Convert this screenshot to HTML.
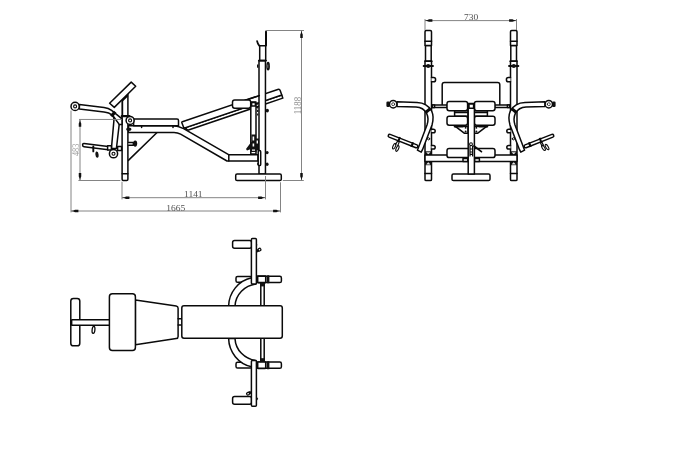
<!DOCTYPE html>
<html>
<head>
<meta charset="utf-8">
<title>Weight bench dimensions</title>
<style>
html,body{margin:0;padding:0;background:#fff;}
body{width:681px;height:450px;overflow:hidden;font-family:"Liberation Sans",sans-serif;}
svg{display:block;position:absolute;left:0;top:0;will-change:transform;}
.k{fill:none;stroke:#0a0a0a;stroke-width:1.5;stroke-linejoin:round;stroke-linecap:round;}
.w{fill:#fff;stroke:#0a0a0a;stroke-width:1.5;stroke-linejoin:round;stroke-linecap:round;}
.t{fill:none;stroke:#1a1a1a;stroke-width:0.8;stroke-linejoin:round;stroke-linecap:round;}
.d{fill:none;stroke:#848484;stroke-width:1;}
.a{fill:#111;stroke:none;}
.b{fill:#111;stroke:none;}
text{font-family:"Liberation Serif",serif;font-size:9.5px;fill:#505050;}
.v{fill:#8a8a8a;}
</style>
</head>
<body>
<svg width="681" height="450" viewBox="0 0 681 450">
<rect x="0" y="0" width="681" height="450" fill="#fff"/>


<!-- ===================== SIDE VIEW ===================== -->
<g id="side-view">
  <!-- backrest -->
  <g transform="translate(181.6 122) rotate(-18.7)">
    <path class="w" d="M1.6 6.6H103.5V9.8H3.2Z"/>
    <path class="w" d="M0.8 0H101.5Q103.5 0 103.5 2V6.6H0.3L0 0.8Q0 0 0.8 0Z"/>
  </g>
  <ellipse class="b" cx="185.4" cy="129" rx="1.7" ry="1.1" transform="rotate(-18 185.4 129)"/>
  <!-- frame -->
  <path class="w" d="M128.4 125.8H173Q178 126 183.6 128.6L228.6 154.7H258V161H227L180.6 134.2Q177.6 132.5 174 132.5H128.4Z"/>
  <path class="k" d="M228.8 154.7V161"/>
  <path class="k" d="M156.8 132.8L128.4 160.4"/>
  <!-- seat pad -->
  <path class="w" d="M133.6 119H177Q178.5 119 178.5 120.5V125.8H133.6Z"/>
  <path class="k" d="M141.6 125.8v1.6M173 125.8v1.6"/>
  <!-- knee pad post -->
  <path class="k" d="M127.9 94.4V117"/><path class="k" style="stroke-width:1.8" d="M122.3 100.6V117"/><path class="k" style="stroke-width:2.4;stroke-linecap:butt" d="M121.6 101L127.6 95.1"/>
  <!-- knee pad -->
  <path class="w" d="M131.2 82.1L135.7 86.3L114.3 107.4L109.6 103.2Z"/>
  <!-- front post -->
  <path class="w" d="M122.1 116.2H127.9V179.2Q127.9 180.4 126.7 180.4H123.3Q122.1 180.4 122.1 179.2Z"/>
  <path class="k" d="M122.1 173.8H127.9"/>
  <path class="k" style="stroke-width:2.2" d="M121.8 116.1H129.4"/>
  <!-- bolt, knob -->
  <ellipse class="b" cx="128.8" cy="129.2" rx="2.7" ry="1.7"/>
  <path class="w" d="M128.6 142.4H133.4V145.2H128.6"/>
  <ellipse class="b" cx="135.2" cy="143.6" rx="2" ry="3.1"/>
  <!-- leg developer arm -->
  <path class="w" d="M113.7 115.6L119.3 123.6L116.4 148.6H111.4L113.9 120.6Z"/>
  <path class="w" d="M79.4 104.4L104 107.4Q108.6 108 111.6 110.4L122 118.8V124.4H119.2L113.7 116.8Q111.7 114.2 108.6 113Q106.6 112.3 104 112L79.4 108.9Z"/>
  <path class="k" style="stroke-width:3.2;stroke-linecap:butt" d="M115.2 111.8L111.3 116.4"/>
  <!-- upper roller -->
  <circle class="w" cx="75.1" cy="106.4" r="4.1"/>
  <circle class="k" style="stroke-width:1.1" cx="75.1" cy="106.4" r="1.5"/>
  <!-- seat pivot -->
  <circle class="w" cx="130.1" cy="120.4" r="4"/>
  <circle class="k" style="stroke-width:1.1" cx="130.1" cy="120.4" r="1.5"/>
  <!-- weight horn -->
  <path class="w" d="M108.2 146.6L84 143.6Q82.6 143.5 82.6 145Q82.6 146.5 84 146.7L108.2 149.7"/>
  <rect class="w" x="107.6" y="145.8" width="3.8" height="4.2"/>
  <rect class="w" x="117.6" y="146.4" width="4" height="4.2"/>
  <path class="k" style="stroke-width:1.9" d="M93.3 146.4V151.4"/>
  <ellipse class="b" cx="97" cy="154.6" rx="1.6" ry="3.2" transform="rotate(-6 97 154.6)"/>
  <!-- lower roller -->
  <circle class="w" cx="113.5" cy="153.7" r="4.1"/>
  <circle class="k" style="stroke-width:1.1" cx="113.5" cy="153.7" r="1.5"/>

  <!-- arm pad post -->
  <path class="w" d="M250.8 102H256V154H250.8Z"/>
  <path class="k" style="stroke-dasharray:2.2 1.4;stroke-linecap:butt;stroke-width:1.2" d="M257.7 102.6V116"/>
  <rect class="w" x="251.6" y="102.4" width="3.8" height="3.6"/>
  <!-- mechanism -->
  <path class="b" d="M251.4 134.5h4.6v4h3.4v12h-3v1.6h-5.4v-3l-4 1.4l-1-1.4l5.4-7.4z"/>
  <path d="M252.6 136.5h1.6v4h-1.6zM256.6 140.4h1.4v3h-1.4zM252.6 143.4h1.6v3h-1.6zM252 149.4h3v1.4h-3z" fill="#fff"/>
  <!-- upright -->
  <path class="w" d="M259 60.5H265.45V174H259Z"/>
  <path class="w" d="M259.7 45.7H265.7V60.5H259.7Z"/>
  <path class="k" style="stroke-width:1.9" d="M258.9 60.6H266"/>
  <path class="k" style="stroke-width:2" d="M266 31.4V45.4"/>
  <path class="k" style="stroke-width:1.8" d="M257.1 41.2Q257.6 43.8 259.2 45.6"/>
  <ellipse class="b" cx="268.1" cy="66.2" rx="1.8" ry="4.4"/><path d="M267.8 64.6v3.2" stroke="#999" stroke-width="0.8" fill="none"/>
  <rect class="b" x="257" y="64.5" width="1.4" height="3.2"/>
  <ellipse class="b" cx="267.3" cy="110.6" rx="1.6" ry="1.9"/>
  <ellipse class="b" cx="267.1" cy="152.6" rx="1.5" ry="1.7"/>
  <ellipse class="b" cx="267.1" cy="164.2" rx="1.5" ry="1.7"/>
  <!-- bracket -->
  <rect class="w" x="258.2" y="150.6" width="2.5" height="15" rx="1.2"/>
  <ellipse class="b" cx="258" cy="164" rx="0.9" ry="1.2"/>
  <!-- arm pad -->
  <path class="k" d="M245 100.2L259.3 95.6"/>
  <rect class="w" x="232.5" y="100" width="18.2" height="8.2" rx="2.2"/>
  <!-- base -->
  <rect class="w" x="235.7" y="174" width="45.6" height="6.6" rx="1.4"/>
</g>


<!-- ===================== DIMENSIONS (side view) ===================== -->
<g id="side-dims">
  <path class="d" d="M79 119.45H121.6M78.4 180.5H120.4M80 119.4V180.5"/>
  <path class="d" d="M71 110.5V212.4M280.5 182.3V212.4M71 211H280.5"/>
  <path class="d" d="M122 181.7V199.4M265.5 176V199.4M122 197.7H265.5"/>
  <path class="d" d="M266 30.5H304M282.8 180.5H303.8M301.5 30.5V180.5"/>
  <path class="a" d="M80.00 119.40L79.45 122.00L78.75 123.40L78.75 126.80L81.25 126.80L81.25 123.40L80.55 122.00ZM80.00 180.50L79.45 177.90L78.75 176.50L78.75 173.10L81.25 173.10L81.25 176.50L80.55 177.90ZM301.50 30.50L300.95 33.10L300.25 34.50L300.25 37.90L302.75 37.90L302.75 34.50L302.05 33.10ZM301.50 180.50L300.95 177.90L300.25 176.50L300.25 173.10L302.75 173.10L302.75 176.50L302.05 177.90Z"/>
  <path class="a" d="M71.00 211.00L73.60 210.45L75.00 209.75L78.40 209.75L78.40 212.25L75.00 212.25L73.60 211.55ZM280.50 211.00L277.90 210.45L276.50 209.75L273.10 209.75L273.10 212.25L276.50 212.25L277.90 211.55ZM122.00 197.70L124.60 197.15L126.00 196.45L129.40 196.45L129.40 198.95L126.00 198.95L124.60 198.25ZM265.50 197.70L262.90 197.15L261.50 196.45L258.10 196.45L258.10 198.95L261.50 198.95L262.90 198.25Z"/>
  <text transform="translate(193.3 197) scale(1 0.93)" text-anchor="middle">1141</text>
  <text transform="translate(175.8 210.6) scale(1 0.93)" text-anchor="middle">1665</text>
  <text class="v" transform="translate(301.4 105.6) rotate(-90) scale(0.93 1.1)" text-anchor="middle">1188</text>
  <text class="v" style="fill:#a0a0a0" transform="translate(79.2 149.8) rotate(-90) scale(0.88 1.1)" text-anchor="middle">483</text>
</g>

<!-- ===================== FRONT VIEW ===================== -->
<g id="front-dims">
  <path class="d" d="M425 19V30.2M516.5 19V30.2M425 20.6H516.5"/>
  <path class="a" d="M425.00 20.60L427.60 20.05L429.00 19.35L432.40 19.35L432.40 21.85L429.00 21.85L427.60 21.15ZM516.50 20.60L513.90 20.05L512.50 19.35L509.10 19.35L509.10 21.85L512.50 21.85L513.90 21.15Z"/>
  <text transform="translate(471 20.2) scale(1 0.93)" text-anchor="middle">730</text>
</g>
<g id="front-view">
  <!-- back pad -->
  <path class="w" d="M442.2 105V84.7Q442.2 82.5 444.4 82.5H497.6Q499.8 82.5 499.8 84.7V105"/>
  <!-- base -->
  <rect class="w" x="452" y="174" width="38" height="6.6" rx="1.4"/>
  <g>
    <!-- connector bar -->
    <path class="w" d="M431.5 105H447.4V107.6H431.5Z"/>
    <rect class="w" x="432.2" y="105" width="2.4" height="2.6"/>
    <!-- upright -->
    <path class="w" d="M425 61H431.5V179.4Q431.5 180.5 430.4 180.5H426.1Q425 180.5 425 179.4Z"/>
    <path class="k" d="M425 173.6H431.5"/>
    <path class="w" d="M425.5 45.5H431.2V61H425.5Z"/>
    <path class="w" d="M425 45.5V31.8Q425 30.6 426.2 30.6H430.3Q431.5 30.6 431.5 31.8V45.5Z"/>
    <path class="k" d="M425 41.2H431.5"/>
    <path class="k" style="stroke-width:1" d="M424.6 61.2H432.4"/>
    <path class="k" style="stroke-width:1.8" d="M423.6 66H433"/>
    <circle class="b" cx="428.2" cy="66" r="2.1"/>
    <!-- pegs -->
    <path class="w" d="M431.5 77.6H433.6Q435.6 77.6 435.6 79.7Q435.6 81.8 433.6 81.8H431.5"/>
    <path class="w" d="M431.5 129.2H433.4Q435.2 129.2 435.2 131Q435.2 132.8 433.4 132.8H431.5"/>
    <path class="w" d="M431.5 145.4H433.4Q435.2 145.4 435.2 147.2Q435.2 149 433.4 149H431.5"/>
    <circle class="k" style="stroke-width:1" cx="428.6" cy="138.8" r="1.1"/>
    <!-- corner brackets -->
    <rect class="b" x="425" y="151.3" width="6.5" height="3.7"/>
    <rect class="b" x="425" y="161.5" width="6.5" height="3.7"/>
    <path d="M426.2 152.2H430.4L428.3 154.6ZM426.2 164.4H430.4L428.3 162Z" fill="#e6e6e6"/>
    <!-- arm pads -->
    <rect class="w" x="454.6" y="110.8" width="13.4" height="5.4"/>
    <path class="k" d="M454.6 112.4H468"/>
    <rect class="w" x="447" y="101.6" width="20.6" height="9.2" rx="2.2"/>
    <rect class="w" x="447" y="116.2" width="20.6" height="9" rx="2.2"/>
    <!-- gusset -->
    <path class="w" d="M454.6 126.2H468V133.2H464.2L457 127.6Z"/>
    <path class="k" style="stroke-width:1.8" d="M454.6 126.6H463"/>
    <circle class="b" cx="465.6" cy="127.8" r="1"/>
    <circle class="b" cx="465.6" cy="131.6" r="1"/>
    <!-- roller brackets under lower pad -->
    <!-- leg developer arm -->
    <path class="w" d="M397 101.8L417 102.4C424 102.6 429 106 431.6 111C433.6 115 433.4 120 432 125L422.6 149.4L421.2 152.2L417.4 150.2L427 125C428 122 428.6 117.4 426.6 113.4C424.6 109.6 421 107.2 416 107L397 106.5Z"/>
    <path class="k" style="stroke-width:3;stroke-linecap:butt" d="M430.6 108.3L425.6 112.5"/>
    <!-- roller -->
    <rect class="b" x="386.4" y="101.6" width="3.4" height="5.4" rx="1.2"/>
    <circle class="w" cx="393.2" cy="104.2" r="3.7"/>
    <circle class="t" cx="393.2" cy="104.2" r="1.5"/>
    <!-- horn -->
    <g transform="translate(388.4 135.3) rotate(21.4)">
      <rect class="w" x="0" y="-1.5" width="31.4" height="3" rx="1.3"/>
      <path class="k" style="stroke-width:2.2;stroke-linecap:butt" d="M25.6 -2.5V2.5"/>
    </g>
  </g>
  <g transform="translate(942 0) scale(-1 1)">
    <!-- connector bar -->
    <path class="w" d="M431.5 105H447.4V107.6H431.5Z"/>
    <rect class="w" x="432.2" y="105" width="2.4" height="2.6"/>
    <!-- upright -->
    <path class="w" d="M425 61H431.5V179.4Q431.5 180.5 430.4 180.5H426.1Q425 180.5 425 179.4Z"/>
    <path class="k" d="M425 173.6H431.5"/>
    <path class="w" d="M425.5 45.5H431.2V61H425.5Z"/>
    <path class="w" d="M425 45.5V31.8Q425 30.6 426.2 30.6H430.3Q431.5 30.6 431.5 31.8V45.5Z"/>
    <path class="k" d="M425 41.2H431.5"/>
    <path class="k" style="stroke-width:1" d="M424.6 61.2H432.4"/>
    <path class="k" style="stroke-width:1.8" d="M423.6 66H433"/>
    <circle class="b" cx="428.2" cy="66" r="2.1"/>
    <!-- pegs -->
    <path class="w" d="M431.5 77.6H433.6Q435.6 77.6 435.6 79.7Q435.6 81.8 433.6 81.8H431.5"/>
    <path class="w" d="M431.5 129.2H433.4Q435.2 129.2 435.2 131Q435.2 132.8 433.4 132.8H431.5"/>
    <path class="w" d="M431.5 145.4H433.4Q435.2 145.4 435.2 147.2Q435.2 149 433.4 149H431.5"/>
    <circle class="k" style="stroke-width:1" cx="428.6" cy="138.8" r="1.1"/>
    <!-- corner brackets -->
    <rect class="b" x="425" y="151.3" width="6.5" height="3.7"/>
    <rect class="b" x="425" y="161.5" width="6.5" height="3.7"/>
    <path d="M426.2 152.2H430.4L428.3 154.6ZM426.2 164.4H430.4L428.3 162Z" fill="#e6e6e6"/>
    <!-- arm pads -->
    <rect class="w" x="454.6" y="110.8" width="13.4" height="5.4"/>
    <path class="k" d="M454.6 112.4H468"/>
    <rect class="w" x="447" y="101.6" width="20.6" height="9.2" rx="2.2"/>
    <rect class="w" x="447" y="116.2" width="20.6" height="9" rx="2.2"/>
    <!-- gusset -->
    <path class="w" d="M454.6 126.2H468V133.2H464.2L457 127.6Z"/>
    <path class="k" style="stroke-width:1.8" d="M454.6 126.6H463"/>
    <circle class="b" cx="465.6" cy="127.8" r="1"/>
    <circle class="b" cx="465.6" cy="131.6" r="1"/>
    <!-- roller brackets under lower pad -->
    <!-- leg developer arm -->
    <path class="w" d="M397 101.8L417 102.4C424 102.6 429 106 431.6 111C433.6 115 433.4 120 432 125L422.6 149.4L421.2 152.2L417.4 150.2L427 125C428 122 428.6 117.4 426.6 113.4C424.6 109.6 421 107.2 416 107L397 106.5Z"/>
    <path class="k" style="stroke-width:3;stroke-linecap:butt" d="M430.6 108.3L425.6 112.5"/>
    <!-- roller -->
    <rect class="b" x="386.4" y="101.6" width="3.4" height="5.4" rx="1.2"/>
    <circle class="w" cx="393.2" cy="104.2" r="3.7"/>
    <circle class="t" cx="393.2" cy="104.2" r="1.5"/>
    <!-- horn -->
    <g transform="translate(388.4 135.3) rotate(21.4)">
      <rect class="w" x="0" y="-1.5" width="31.4" height="3" rx="1.3"/>
      <path class="k" style="stroke-width:2.2;stroke-linecap:butt" d="M25.6 -2.5V2.5"/>
    </g>
  </g>
  <!-- spring clips -->
  <g transform="translate(388.4 135.3) rotate(21.4)">
    <path class="k" style="stroke-width:2;stroke-linecap:butt" d="M11.4 -2.6V3"/>
    <path class="k" style="stroke-width:1.1" d="M10.6 2.4L10 6M12.6 2.4L12.4 6"/>
    <ellipse class="k" style="stroke-width:1.1" cx="9.4" cy="8" rx="1.2" ry="3" transform="rotate(2 9.4 8)"/>
    <ellipse class="k" style="stroke-width:1.1" cx="13.2" cy="9" rx="1.2" ry="3" transform="rotate(2 13.2 9)"/>
  </g>
  <g transform="translate(553.6 135.3) rotate(-21.4)">
    <path class="k" style="stroke-width:2;stroke-linecap:butt" d="M-14 -2.6V3"/>
    <path class="k" style="stroke-width:1.1" d="M-13.4 2.4L-13 6M-15 2.4L-14.8 6"/>
    <ellipse class="k" style="stroke-width:1.1" cx="-14" cy="8" rx="1.2" ry="3" transform="rotate(-10 -14 8)"/>
    <ellipse class="k" style="stroke-width:1.1" cx="-10.4" cy="8.6" rx="1.2" ry="3" transform="rotate(-10 -10.4 8.6)"/>
  </g>
  <!-- cross bar -->
  <rect class="w" x="425" y="155" width="92" height="6.5"/>
  <rect class="w" x="463" y="158.4" width="4.8" height="3"/>
  <rect class="w" x="474.6" y="158.4" width="4.8" height="3"/>
  <!-- lower roller pad -->
  <rect class="w" x="447" y="148.6" width="48" height="9" rx="2.2"/>
  <!-- center post -->
  <path class="w" d="M468.2 103.6H474.4V174H468.2Z"/>
  <rect class="w" x="469" y="104" width="4.6" height="4.2"/>
  <!-- pull pin -->
  <path class="k" style="stroke-width:1.8" d="M474 146L481.4 151.6"/>
  <circle class="k" style="stroke-width:1.1" cx="471" cy="144.2" r="1.4"/>
  <path class="k" style="stroke-width:1.2" d="M470 146.2V156M472.6 146.2V156M470 149H472.6M470 152H472.6M470 154.4H472.6"/>
</g>

<!-- ===================== TOP VIEW ===================== -->
<g id="top-view">
  <!-- T handle -->
  <rect class="w" x="70.8" y="298.4" width="9" height="47.4" rx="2.6"/>
  <path class="w" d="M109.4 319.8H72.3a1.2 2.7 0 0 0 0 5.5H109.4"/><path class="k" style="stroke-width:2" d="M71.4 320.8V324.4"/>
  <ellipse class="k" style="stroke-width:1.3" cx="93.5" cy="329.9" rx="1.4" ry="3.5" transform="rotate(6 93.5 329.9)"/>
  <!-- seat -->
  <path class="w" d="M135.4 300L176.2 306Q178.1 306.3 178.1 308.2V336.4Q178.1 338.3 176.2 338.6L135.4 344.7Z"/>
  <rect class="w" x="109.4" y="293.8" width="26" height="56.7" rx="3"/>
  <!-- connector -->
  <path class="k" d="M178.1 318.8H181.8M178.1 325H181.8"/>
  <g>
    <rect class="w" x="232.6" y="240.4" width="19" height="7.8" rx="2"/>
    <rect class="w" x="236" y="276.5" width="16" height="5.8" rx="1.6"/>
    <!-- arc tube -->
    <path class="w" d="M228.6 306C229 292.5 238.4 280.6 251.6 277.8H256V284C244.6 285.6 235.6 294.4 235 306Z"/>
    <!-- right stub with collar -->
    <rect class="w" x="256" y="276.3" width="25.4" height="6.2" rx="1.6"/>
    <rect class="w" style="stroke-width:1.7" x="257.6" y="276.2" width="8.2" height="6.4" rx="0.6"/>
    <rect class="b" x="267" y="275.3" width="2.4" height="8" rx="0.6"/>
    <!-- rod -->
    <path class="k" d="M260.8 283V306M264.2 283V306"/>
    <rect class="b" x="260.2" y="282.6" width="4.6" height="3.8"/>
    <!-- vertical bar -->
    <rect class="w" x="251.4" y="238.4" width="5" height="45.6" rx="1"/>
  </g>
  <g transform="translate(0 644.6) scale(1 -1)">
    <rect class="w" x="232.6" y="240.4" width="19" height="7.8" rx="2"/>
    <rect class="w" x="236" y="276.5" width="16" height="5.8" rx="1.6"/>
    <!-- arc tube -->
    <path class="w" d="M228.6 306C229 292.5 238.4 280.6 251.6 277.8H256V284C244.6 285.6 235.6 294.4 235 306Z"/>
    <!-- right stub with collar -->
    <rect class="w" x="256" y="276.3" width="25.4" height="6.2" rx="1.6"/>
    <rect class="w" style="stroke-width:1.7" x="257.6" y="276.2" width="8.2" height="6.4" rx="0.6"/>
    <rect class="b" x="267" y="275.3" width="2.4" height="8" rx="0.6"/>
    <!-- rod -->
    <path class="k" d="M260.8 283V306M264.2 283V306"/>
    <rect class="b" x="260.2" y="282.6" width="4.6" height="3.8"/>
    <!-- vertical bar -->
    <rect class="w" x="251.4" y="238.4" width="5" height="45.6" rx="1"/>
  </g>
  <!-- bolts -->
  <g transform="translate(256.6 251.2) rotate(-28)"><rect class="b" x="0" y="-1.5" width="2" height="3"/><rect class="k" style="stroke-width:1.2" x="2" y="-1.2" width="2.6" height="2.4" rx="0.8"/></g>
  <rect class="b" x="256.2" y="244" width="1" height="1.6"/>
  <g transform="translate(251 392) rotate(150)"><rect class="b" x="0" y="-1.5" width="2" height="3"/><rect class="k" style="stroke-width:1.2" x="2" y="-1.2" width="2.8" height="2.4" rx="0.8"/></g>
  <path class="b" d="M256.4 396.4L258.2 398.8L256.4 401.2Z"/>
  <!-- back pad -->
  <rect class="w" x="181.8" y="305.7" width="100.5" height="32.5" rx="2.2"/>
</g>
</svg>
</body>
</html>
